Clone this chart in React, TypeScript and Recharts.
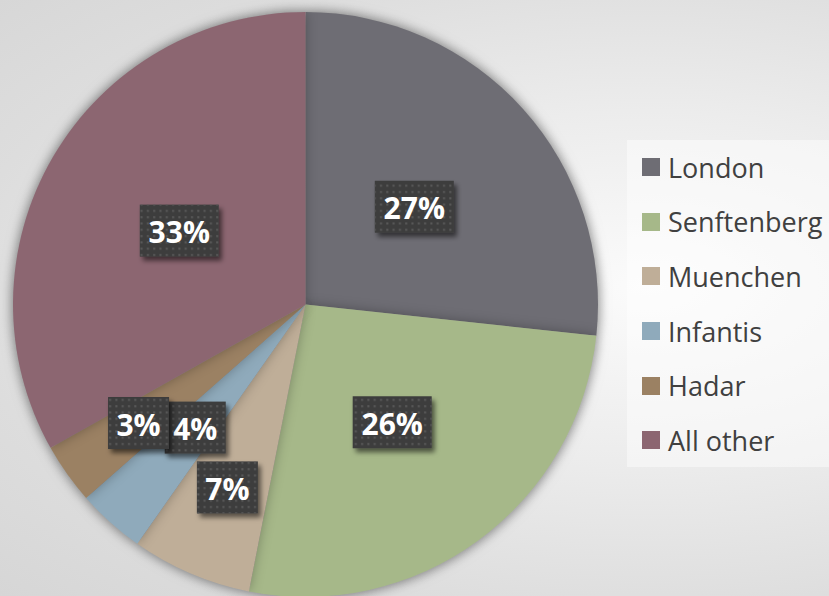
import { PieChart, Pie, Cell, Legend } from 'recharts'

const SERIOTYPES = ['London', 'Senftenberg', 'Muenchen', 'Infantis', 'Hadar', 'All other']
const SHARES = [26.7, 26.4, 6.65, 3.75, 3.35, 33.15]

const COLORS: Record<string, string> = {
  'London': '#6e6d74',
  'Senftenberg': '#a6b889',
  'Muenchen': '#bfae98',
  'Infantis': '#8faabb',
  'Hadar': '#9b8163',
  'All other': '#8c6671',
}

// how far out each label box sits, as a share of the radius
const LABEL_RADIUS: Record<string, number> = {
  'London': 0.5,
  'Senftenberg': 0.5,
  'Muenchen': 0.68,
  'Infantis': 0.565,
  'Hadar': 0.7,
  'All other': 0.5,
}

const chartData = SERIOTYPES.map((name, i) => ({ name, value: SHARES[i] }))

const RADIAN = Math.PI / 180

function BoxLabel(props: any) {
  const { cx, cy, midAngle, outerRadius, percent, name } = props
  const r = outerRadius * (LABEL_RADIUS[name] ?? 0.5)
  const x = cx + r * Math.cos(-midAngle * RADIAN)
  const y = cy + r * Math.sin(-midAngle * RADIAN)
  const text = `${Math.round(percent * 100)}%`
  const digits = text.length - 1
  const w = 43 + 18 * digits
  const h = 52
  return (
    <g>
      <rect x={x - w / 2} y={y - h / 2} width={w} height={h} fill="#3c3c3c" filter="url(#boxShadow)" />
      <rect x={x - w / 2} y={y - h / 2} width={w} height={h} fill="url(#dots)" />
      <text
        x={x}
        y={y + 1}
        textAnchor="middle"
        dominantBaseline="central"
        fill="#ffffff"
        style={{ fontFamily: '"Open Sans", sans-serif', fontWeight: 700, fontSize: 30 }}
      >
        {text}
      </text>
    </g>
  )
}

// legend drawn in series order (recharts would sort it by name)
function LegendBox() {
  return (
    <div style={{ width: 202, height: 327, background: 'rgba(255,255,255,0.45)' }}>
      {SERIOTYPES.map((name) => (
        <div
          key={name}
          style={{ height: 54.6, display: 'flex', alignItems: 'center', paddingLeft: 15 }}
        >
          <span style={{ width: 18, height: 18, background: COLORS[name], display: 'inline-block', flex: 'none' }} />
          <span
            style={{
              marginLeft: 8,
              fontFamily: '"Open Sans", sans-serif',
              fontSize: 27,
              color: '#404040',
              whiteSpace: 'nowrap',
            }}
          >
            {name}
          </span>
        </div>
      ))}
    </div>
  )
}

export default function App() {
  return (
    <div
      style={{
        position: 'absolute',
        left: 0,
        top: 0,
        width: 829,
        height: 596,
        overflow: 'hidden',
        background: 'radial-gradient(ellipse at 78% 48%, #fbfbfb 0%, #ececec 40%, #dddddd 75%, #d6d6d6 100%)',
      }}
    >
      <style>{`.pie-shadow { filter: drop-shadow(0 0 6px rgba(0,0,0,0.28)); }`}</style>
      <PieChart width={829} height={596} margin={{ top: 0, right: 0, bottom: 0, left: 0 }}>
        <defs>
          <pattern id="dots" width="6.3" height="6.3" patternUnits="userSpaceOnUse">
            <rect x="2" y="2" width="2" height="2" fill="#5a5a5a" />
          </pattern>
          <filter id="boxShadow" x="-20%" y="-20%" width="150%" height="160%">
            <feDropShadow dx="3" dy="4" stdDeviation="2.5" floodColor="#000" floodOpacity="0.55" />
          </filter>
        </defs>
        <Pie
          data={chartData}
          dataKey="value"
          nameKey="name"
          cx={305.5}
          cy={304.5}
          outerRadius={292.5}
          startAngle={90}
          endAngle={-270}
          stroke="none"
          className="pie-shadow"
          label={BoxLabel}
          labelLine={false}
          isAnimationActive={false}
        >
          {chartData.map((entry) => (
            <Cell key={entry.name} fill={COLORS[entry.name]} />
          ))}
        </Pie>
        <Legend
          layout="vertical"
          content={LegendBox}
          wrapperStyle={{ left: 627, top: 140, width: 202, height: 327 }}
        />
      </PieChart>
    </div>
  )
}
